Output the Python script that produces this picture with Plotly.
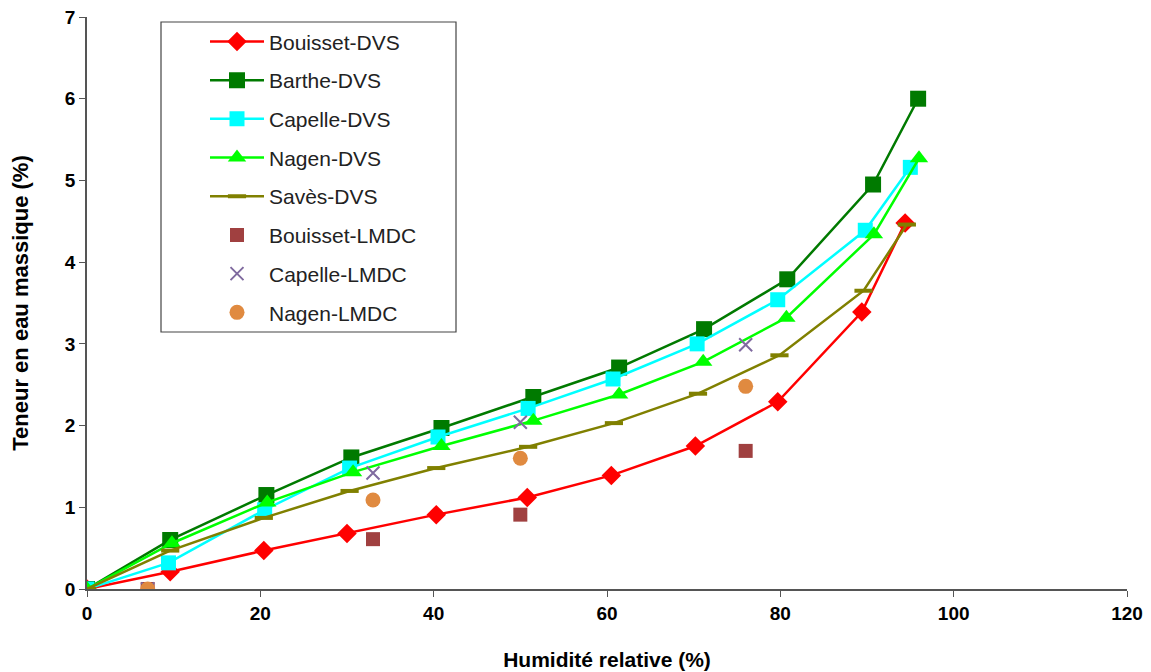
import plotly.graph_objects as go

# ---- data ----
bouisset_dvs_x = [0, 9.6, 20.4, 30.0, 40.3, 50.8, 60.5, 70.2, 79.7, 89.4, 94.4]
bouisset_dvs_y = [0, 0.21, 0.47, 0.68, 0.91, 1.12, 1.39, 1.75, 2.29, 3.39, 4.48]

barthe_dvs_x = [0, 9.6, 20.7, 30.5, 40.9, 51.5, 61.4, 71.2, 80.8, 90.7, 95.9]
barthe_dvs_y = [0, 0.60, 1.15, 1.61, 1.97, 2.35, 2.71, 3.18, 3.79, 4.95, 6.0]

capelle_dvs_x = [0, 9.4, 20.5, 30.3, 40.5, 50.9, 60.7, 70.4, 79.7, 89.8, 95.0]
capelle_dvs_y = [0, 0.32, 0.97, 1.48, 1.86, 2.21, 2.57, 3.00, 3.54, 4.39, 5.16]

nagen_dvs_x = [0, 9.8, 20.8, 30.7, 40.9, 51.5, 61.4, 71.1, 80.7, 90.8, 96.0]
nagen_dvs_y = [0, 0.56, 1.06, 1.43, 1.75, 2.06, 2.38, 2.78, 3.32, 4.34, 5.27]

saves_dvs_x = [0, 9.6, 20.4, 30.3, 40.3, 50.9, 60.8, 70.5, 79.9, 89.6, 94.6]
saves_dvs_y = [0, 0.47, 0.87, 1.20, 1.48, 1.74, 2.03, 2.39, 2.86, 3.65, 4.46]

lmdc_x = [7, 33, 50, 76]
bouisset_lmdc_y = [0, 0.61, 0.91, 1.69]
capelle_lmdc_y = [0, 1.42, 2.04, 2.99]
nagen_lmdc_y = [0, 1.09, 1.60, 2.48]

x_ticks = [0, 20, 40, 60, 80, 100, 120]
y_ticks = [0, 1, 2, 3, 4, 5, 6, 7]

fig = go.Figure()

def line_trace(x, y, name, color, symbol, size, group, mline=None):
    marker = dict(symbol=symbol, size=size, color=color)
    if mline:
        marker["line"] = mline
    fig.add_trace(go.Scatter(x=x, y=y, name=name, mode="lines+markers",
                             line=dict(color=color, width=2.5), marker=marker,
                             legendgroup=group))

line_trace(bouisset_dvs_x, bouisset_dvs_y, "Bouisset-DVS", "#FF0000", "diamond", 15, "g1")
line_trace(barthe_dvs_x, barthe_dvs_y, "Barthe-DVS", "#007A00", "square", 16, "g2")
line_trace(capelle_dvs_x, capelle_dvs_y, "Capelle-DVS", "#00FFFF", "square", 15, "g3")
line_trace(nagen_dvs_x, nagen_dvs_y, "Nagen-DVS", "#00FF00", "triangle-up", 16, "g4")
line_trace(saves_dvs_x, saves_dvs_y, "Savès-DVS", "#808000", "line-ew", 13, "g5",
           mline=dict(color="#808000", width=4))

fig.add_trace(go.Scatter(x=lmdc_x, y=bouisset_lmdc_y, name="Bouisset-LMDC", mode="markers",
                         marker=dict(symbol="square", size=14, color="#A04040"), legendgroup="g6"))
fig.add_trace(go.Scatter(x=lmdc_x, y=capelle_lmdc_y, name="Capelle-LMDC", mode="markers",
                         marker=dict(symbol="x-thin", size=13, color="#7F6A9F",
                                     line=dict(color="#7F6A9F", width=2)), legendgroup="g7"))
fig.add_trace(go.Scatter(x=lmdc_x, y=nagen_lmdc_y, name="Nagen-LMDC", mode="markers",
                         marker=dict(symbol="circle", size=15, color="#E08A40"), legendgroup="g8"))

axis_font = dict(family="Liberation Sans, Arial", size=19, color="#000000")
fig.update_layout(
    width=1151, height=672,
    margin=dict(l=87, r=24, t=17, b=83),
    paper_bgcolor="white", plot_bgcolor="white",
    font=dict(family="Liberation Sans, Arial", color="#000000"),
    xaxis=dict(range=[0, 120], tickvals=x_ticks, ticktext=[f"<b>{v}</b>" for v in x_ticks],
               showline=True, linecolor="#555555", linewidth=1.5, ticks="outside",
               ticklen=6, tickcolor="#555555", showgrid=False, zeroline=False,
               tickfont=axis_font, automargin=False,
               title=dict(text="<b>Humidité relative (%)</b>", font=dict(size=21), standoff=30)),
    yaxis=dict(range=[0, 7], tickvals=y_ticks, ticktext=[f"<b>{v}</b>" for v in y_ticks],
               showline=True, linecolor="#555555", linewidth=1.5, ticks="outside",
               ticklen=6, tickcolor="#555555", showgrid=False, zeroline=False,
               tickfont=axis_font, automargin=False,
               title=dict(text="<b>Teneur en eau massique (%)</b>", font=dict(size=22), standoff=30)),
    legend=dict(x=(205 - 87) / 1040, y=0.9925, xanchor="left", yanchor="top",
                borderwidth=0, bgcolor="rgba(0,0,0,0)",
                font=dict(size=21, color="#222222"), traceorder="grouped",
                tracegroupgap=8.4, itemwidth=54),
    shapes=[dict(type="rect", xref="paper", yref="paper",
                 x0=(161 - 87) / 1040, x1=(456 - 87) / 1040,
                 y0=(589 - 332) / 572, y1=(589 - 22) / 572,
                 line=dict(color="#444444", width=1.2), fillcolor="white", layer="below")],
)

fig.write_html("out.html")
